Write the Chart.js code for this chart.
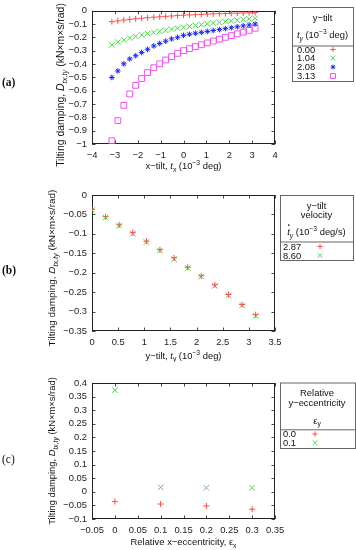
<!DOCTYPE html>
<html>
<head>
<meta charset="utf-8">
<script src="https://cdn.jsdelivr.net/npm/chart.js@4.4.1/dist/chart.umd.min.js"></script>
<style>
  body { margin: 0; background: #fff; }
  #wrap { position: relative; width: 356px; height: 550px; }
  canvas { position: absolute; left: 0; }
</style>
</head>
<body>
<div id="wrap">
  <canvas id="chart-a" width="356" height="178" style="top:0px"></canvas>
  <canvas id="chart-b" width="356" height="184" style="top:178px"></canvas>
  <canvas id="chart-c" width="356" height="188" style="top:362px"></canvas>
</div>
<script>
// (a) damping vs x-tilt, one series per y-tilt
const tiltX = [-3.13, -2.87, -2.61, -2.35, -2.09, -1.83, -1.57, -1.30, -1.04, -0.78, -0.52, -0.26, 0,
               0.26, 0.52, 0.78, 1.04, 1.30, 1.57, 1.83, 2.09, 2.35, 2.61, 2.87, 3.13];
const tiltYLevels = ['0.00', '1.04', '2.08', '3.13'];
const dampTilt000 = [-0.083, -0.077, -0.071, -0.066, -0.061, -0.057, -0.053, -0.049, -0.046, -0.043, -0.040, -0.037, -0.034,
                     -0.032, -0.030, -0.028, -0.026, -0.024, -0.023, -0.021, -0.020, -0.019, -0.018, -0.016, -0.015];
const dampTilt104 = [-0.258, -0.236, -0.219, -0.205, -0.193, -0.182, -0.172, -0.163, -0.155, -0.147, -0.139, -0.132, -0.125,
                     -0.118, -0.111, -0.105, -0.099, -0.093, -0.087, -0.082, -0.077, -0.072, -0.067, -0.062, -0.058];
const dampTilt208 = [-0.501, -0.452, -0.399, -0.362, -0.338, -0.314, -0.290, -0.265, -0.246, -0.229, -0.212, -0.200, -0.185,
                     -0.177, -0.170, -0.163, -0.156, -0.149, -0.142, -0.135, -0.128, -0.121, -0.114, -0.107, -0.100];
const dampTilt313 = [-0.976, -0.825, -0.710, -0.625, -0.560, -0.509, -0.465, -0.428, -0.399, -0.370, -0.345, -0.320, -0.300,
                     -0.285, -0.270, -0.256, -0.242, -0.228, -0.214, -0.200, -0.187, -0.174, -0.161, -0.148, -0.132];

// (b) damping vs y-tilt, one series per tilt velocity
const tiltY = [0, 0.26, 0.52, 0.78, 1.04, 1.30, 1.57, 1.83, 2.09, 2.35, 2.61, 2.87, 3.13];
const velocityLevels = ['2.87', '8.60'];
const dampVel287 = [-0.037, -0.056, -0.077, -0.097, -0.119, -0.141, -0.162, -0.186, -0.208, -0.231, -0.256, -0.282, -0.308];
const dampVel860 = [-0.039, -0.058, -0.079, -0.100, -0.121, -0.143, -0.165, -0.188, -0.210, -0.234, -0.258, -0.284, -0.311];

// (c) damping vs x-eccentricity, one series per y-eccentricity
const eccX = [0, 0.1, 0.2, 0.3];
const eccYLevels = ['0.0', '0.1'];
const dampEcc00 = [-0.036, -0.045, -0.052, -0.064];
const dampEcc01 = [0.374, 0.016, 0.015, 0.015];

const SANS = '"Liberation Sans", Arial, sans-serif';
const SERIF = '"Liberation Serif", "Times New Roman", serif';
const FS = 9.4;
const RED = '#ff4a4a', GREEN = '#3ddc3d', BLUE = '#1a2aff', MAGENTA = '#f050f0';

const marks = {
  red:     { pointStyle: 'cross',    radius: 3.0, color: RED },
  green:   { pointStyle: 'crossRot', radius: 3.9, color: GREEN },
  blue:    { pointStyle: 'star',     radius: 2.8, color: BLUE },
  magenta: { pointStyle: 'rect',     radius: 4.1, color: MAGENTA }
};

function fmt(v) {
  const r = Math.round(v * 1000) / 1000;
  return r === 0 ? '0' : String(r).replace('-', '\u2212');
}

function series(xs, ys, mark) {
  return {
    data: xs.map((x, i) => ({ x: x, y: ys[i] })),
    pointStyle: mark.pointStyle,
    pointRadius: mark.radius,
    pointHoverRadius: mark.radius,
    borderColor: mark.color,
    backgroundColor: 'transparent',
    borderWidth: 1,
    showLine: false
  };
}

function partFont(p, size) {
  const sz = p.s ? size * 0.72 : size;
  return (p.i ? 'italic ' : '') + sz + 'px ' + SANS;
}

function richWidth(ctx, parts, size) {
  let w = 0;
  parts.forEach(p => { ctx.font = partFont(p, size); w += ctx.measureText(p.t).width; });
  return w;
}

function drawRich(ctx, parts, x, y, size, align) {
  const w = richWidth(ctx, parts, size);
  let cx = align === 'center' ? x - w / 2 : x;
  ctx.textAlign = 'left';
  ctx.textBaseline = 'alphabetic';
  parts.forEach(p => {
    ctx.font = partFont(p, size);
    const dy = p.s === 'sub' ? size * 0.3 : p.s === 'sup' ? -size * 0.42 : 0;
    ctx.fillText(p.t, cx, y + dy);
    const pw = ctx.measureText(p.t).width;
    if (p.dot) {
      ctx.beginPath();
      ctx.arc(cx + pw * 0.6, y - size * 1.05, 0.8, 0, Math.PI * 2);
      ctx.fill();
    }
    cx += pw;
  });
}

// scale the font so the text spans the given width
function fitSize(ctx, parts, target) {
  return 10 * target / richWidth(ctx, parts, 10);
}

const yTitle = [{ t: 'Tilting damping, ' }, { t: 'D', i: 1 }, { t: 'tx,ty', s: 'sub', i: 1 }, { t: ' (kN\u00d7m\u00d7s/rad)' }];

function drawFrame(chart) {
  const { ctx, chartArea: a, scales } = chart;
  ctx.save();
  ctx.strokeStyle = '#444';
  ctx.lineWidth = 1;
  ctx.beginPath();
  scales.x.ticks.forEach(t => {
    const px = Math.round(scales.x.getPixelForValue(t.value)) + 0.5;
    ctx.moveTo(px, a.bottom); ctx.lineTo(px, a.bottom - 3.5);
    ctx.moveTo(px, a.top); ctx.lineTo(px, a.top + 3.5);
  });
  scales.y.ticks.forEach(t => {
    const py = Math.round(scales.y.getPixelForValue(t.value)) + 0.5;
    ctx.moveTo(a.left, py); ctx.lineTo(a.left + 3.5, py);
    ctx.moveTo(a.right, py); ctx.lineTo(a.right - 3.5, py);
  });
  ctx.stroke();
  ctx.strokeStyle = '#222';
  ctx.strokeRect(Math.round(a.left) + 0.5, Math.round(a.top) + 0.5,
                 Math.round(a.right - a.left) - 1, Math.round(a.bottom - a.top) - 1);
  ctx.restore();
}

function drawDecor(chart, cfg) {
  const { ctx, chartArea: a } = chart;
  ctx.save();
  ctx.fillStyle = '#111';

  // panel label
  ctx.font = (cfg.labelBold ? 'bold ' : '') + '11.5px ' + SERIF;
  ctx.textAlign = 'left';
  ctx.textBaseline = 'middle';
  ctx.fillText(cfg.label, 2, cfg.labelY);

  // y title, rotated
  const ys = fitSize(ctx, yTitle, cfg.yTitleLen);
  ctx.save();
  ctx.translate(cfg.yTitleX, cfg.yTitleY);
  ctx.rotate(-Math.PI / 2);
  drawRich(ctx, yTitle, 0, ys * 0.35, ys, 'center');
  ctx.restore();

  // x title
  const xs = fitSize(ctx, cfg.xTitle, cfg.xTitleLen);
  drawRich(ctx, cfg.xTitle, (a.left + a.right) / 2, cfg.xTitleY, xs, 'center');

  // legend box
  const L = cfg.legend;
  ctx.strokeStyle = '#666';
  ctx.lineWidth = 1;
  ctx.strokeRect(L.x + 0.5, L.y + 0.5, L.w, L.h);
  ctx.beginPath();
  ctx.moveTo(L.x, L.sep + 0.5);
  ctx.lineTo(L.x + L.w + 1, L.sep + 0.5);
  ctx.stroke();
  L.lines.forEach(line => drawRich(ctx, line.parts, L.cx, line.y, FS, 'center'));
  L.entries.forEach((label, i) => {
    const y = L.entryY[i];
    ctx.fillStyle = '#111';
    ctx.font = FS + 'px ' + SANS;
    ctx.textAlign = 'left';
    ctx.textBaseline = 'middle';
    ctx.fillText(label, L.textX, y + 0.5);
    const m = L.marks[i];
    ctx.strokeStyle = m.color;
    ctx.fillStyle = 'transparent';
    Chart.helpers.drawPoint(ctx, { pointStyle: m.pointStyle, radius: m.radius * 0.85, rotation: 0, borderWidth: 1 }, L.markX, y);
  });
  ctx.restore();
}

function makePanel(id, cfg) {
  const canvas = document.getElementById(id);
  const H = canvas.height;
  const tickFont = { family: SANS, size: FS };
  return new Chart(canvas.getContext('2d'), {
    type: 'scatter',
    data: { datasets: cfg.datasets },
    options: {
      responsive: false,
      animation: false,
      devicePixelRatio: 1,
      layout: { padding: { top: cfg.top, right: 81, left: 0, bottom: 0 } },
      plugins: { legend: { display: false }, tooltip: { enabled: false } },
      scales: {
        x: {
          type: 'linear', min: cfg.x[0], max: cfg.x[1],
          ticks: { stepSize: cfg.x[2], callback: fmt, font: tickFont, color: '#222', padding: 6, maxRotation: 0, autoSkip: false },
          grid: { display: false, drawTicks: false },
          border: { display: false },
          afterFit: s => { s.height = H - cfg.bottom; }
        },
        y: {
          type: 'linear', min: cfg.y[0], max: cfg.y[1],
          ticks: { stepSize: cfg.y[2], callback: fmt, font: tickFont, color: '#222', padding: 5, autoSkip: false },
          grid: { display: false, drawTicks: false },
          border: { display: false },
          afterFit: s => { s.width = 92; }
        }
      }
    },
    plugins: [{
      id: 'decor-' + id,
      beforeDatasetsDraw: chart => drawFrame(chart),
      afterDraw: chart => drawDecor(chart, cfg)
    }]
  });
}

makePanel('chart-a', {
  top: 7, bottom: 144,
  x: [-4, 4, 1], y: [-1, 0, 0.1],
  datasets: [
    series(tiltX, dampTilt000, marks.red),
    series(tiltX, dampTilt104, marks.green),
    series(tiltX, dampTilt208, marks.blue),
    series(tiltX, dampTilt313, marks.magenta)
  ],
  label: '(a)', labelBold: true, labelY: 83,
  yTitleX: 60, yTitleY: 85, yTitleLen: 164,
  xTitle: [{ t: 'x\u2212tilt, ' }, { t: 't', i: 1 }, { t: 'x', s: 'sub' }, { t: ' (10' }, { t: '\u22123', s: 'sup' }, { t: ' deg)' }],
  xTitleY: 169, xTitleLen: 76,
  legend: {
    x: 292, y: 7, w: 61, h: 74, sep: 45.5, cx: 322.5,
    lines: [
      { parts: [{ t: 'y\u2212tilt' }], y: 21 },
      { parts: [{ t: 't', i: 1 }, { t: 'y', s: 'sub', i: 1 }, { t: ' (10' }, { t: '\u22123', s: 'sup' }, { t: ' deg)' }], y: 38 }
    ],
    entries: tiltYLevels, entryY: [49.5, 58.2, 67, 76],
    textX: 297, markX: 333,
    marks: [marks.red, marks.green, marks.blue, marks.magenta]
  }
});

makePanel('chart-b', {
  top: 17, bottom: 153,
  x: [0, 3.5, 0.5], y: [-0.35, 0, 0.05],
  datasets: [
    series(tiltY, dampVel287, marks.red),
    series(tiltY, dampVel860, marks.green)
  ],
  label: '(b)', labelBold: true, labelY: 93,
  yTitleX: 52, yTitleY: 90, yTitleLen: 157,
  xTitle: [{ t: 'y\u2212tilt, ' }, { t: 't', i: 1 }, { t: 'y', s: 'sub' }, { t: ' (10' }, { t: '\u22123', s: 'sup' }, { t: ' deg)' }],
  xTitleY: 180.5, xTitleLen: 76,
  legend: {
    x: 280, y: 17, w: 73, h: 65, sep: 63.5, cx: 316.5,
    lines: [
      { parts: [{ t: 'y\u2212tilt' }], y: 30.5 },
      { parts: [{ t: 'velocity' }], y: 39.5 },
      { parts: [{ t: 't', i: 1, dot: 1 }, { t: 'y', s: 'sub', i: 1 }, { t: ' (10' }, { t: '\u22123', s: 'sup' }, { t: ' deg/s)' }], y: 57 }
    ],
    entries: velocityLevels, entryY: [68.5, 77.5],
    textX: 283, markX: 320,
    marks: [marks.red, marks.green]
  }
});

makePanel('chart-c', {
  top: 21, bottom: 157,
  x: [-0.05, 0.35, 0.05], y: [-0.1, 0.4, 0.05],
  datasets: [
    series(eccX, dampEcc00, marks.red),
    series(eccX, dampEcc01, marks.green)
  ],
  label: '(c)', labelBold: false, labelY: 98,
  yTitleX: 52, yTitleY: 89, yTitleLen: 148,
  xTitle: [{ t: 'Relative x\u2212eccentricity, ' }, { t: '\u03b5' }, { t: 'x', s: 'sub' }],
  xTitleY: 183, xTitleLen: 106,
  legend: {
    x: 280, y: 20.5, w: 75, h: 65.5, sep: 67.3, cx: 317,
    lines: [
      { parts: [{ t: 'Relative' }], y: 33.5 },
      { parts: [{ t: 'y\u2212eccentricity' }], y: 43.5 },
      { parts: [{ t: '\u03b5' }, { t: 'y', s: 'sub' }], y: 61.5 }
    ],
    entries: eccYLevels, entryY: [72, 80.7],
    textX: 283, markX: 315,
    marks: [marks.red, marks.green]
  }
});
</script>
</body>
</html>
